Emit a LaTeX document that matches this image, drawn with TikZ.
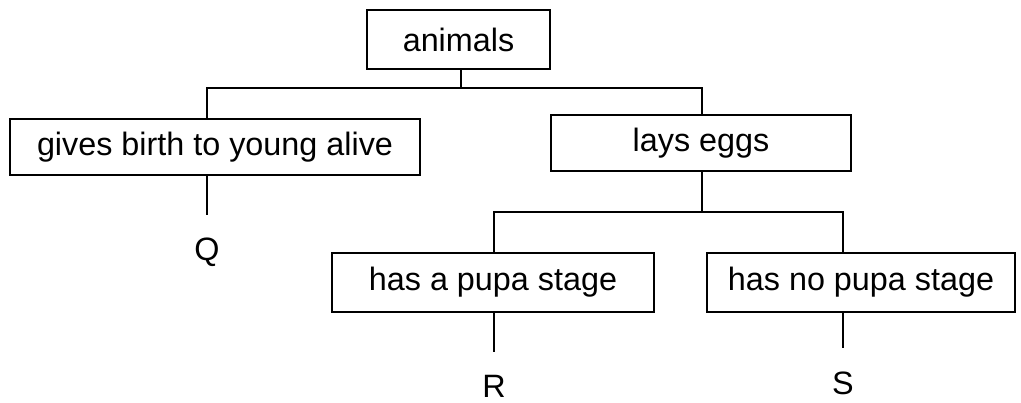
\documentclass[tikz,border=0pt]{standalone}
\usepackage{fontspec}
\setmainfont{Liberation Sans}
\usetikzlibrary{calc}
\usetikzlibrary{positioning}

\begin{document}
\begin{tikzpicture}[x=0.025cm, y=-0.025cm, line width=0.8pt,
		font=\fontsize{23}{27}\selectfont,
		box/.style={draw, inner sep=0pt},
		leaf/.style={inner sep=0pt},
		link/.style={shorten >=16pt}]
			\useasboundingbox (0, 0) rectangle (1021, 402);
			\node[box, minimum width=4.575cm, minimum height=1.475cm] (animals) at (458.5, 39.5) {animals};
			\node[box, minimum width=10.25cm, minimum height=1.4cm] (birth) at (215, 147) {gives birth to young alive};
			\node[box, minimum width=7.5cm, minimum height=1.4cm] (eggs) at (701, 143) {lays eggs};
			\node[box, minimum width=8.05cm, minimum height=1.475cm] (pupa) at (493, 282.5) {has a pupa stage};
			\node[box, minimum width=7.7cm, minimum height=1.475cm] (nopupa) at (861, 282.5) {has no pupa stage};
			\node[leaf] (Q) at (207, 252) {Q};
			\node[leaf] (R) at (494, 386) {R};
			\node[leaf] (S) at (843, 383) {S};
			\coordinate (split1) at (461, 88);
			\coordinate (split2) at (702, 212);
			\draw (animals.south -| split1) -- (split1);
			\draw (birth.north -| Q) |- (split1) -| (eggs.north -| split2);
			\draw (eggs.south -| split2) -- (split2);
			\draw (pupa.north -| R) |- (split2) -| (nopupa.north -| S);
			\draw[link] (birth.south -| Q) -- (Q.north);
			\draw[link] (pupa.south -| R) -- (R.north);
			\draw[link] (nopupa.south -| S) -- (S.north);
		\end{tikzpicture}
\end{document}
